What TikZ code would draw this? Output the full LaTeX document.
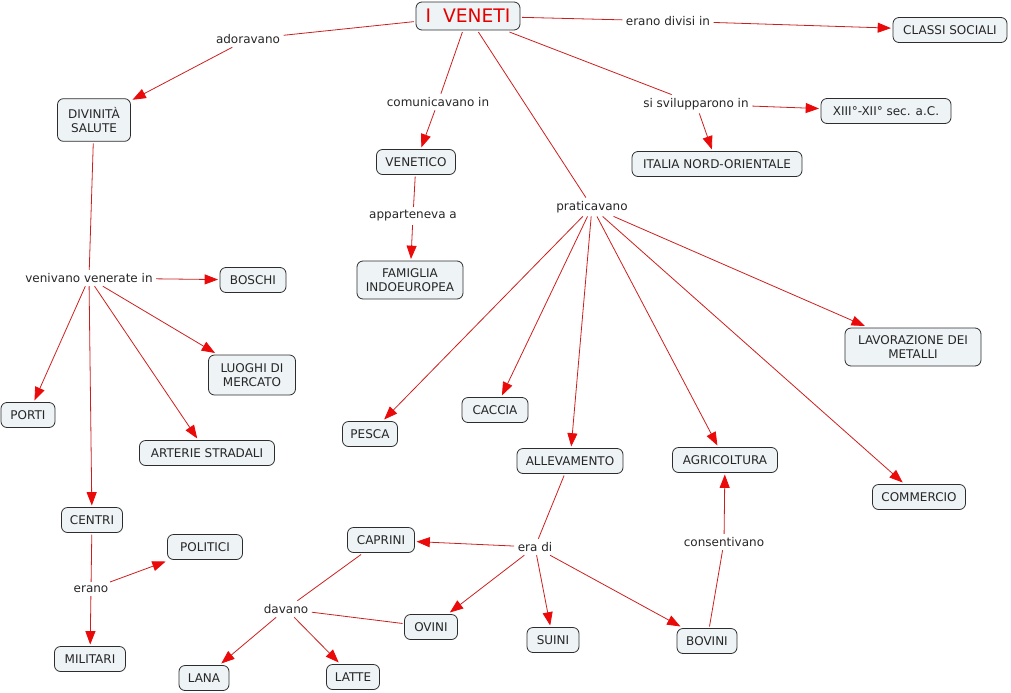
\documentclass[tikz,border=0pt]{standalone}
\usepackage{fontspec}
\setmainfont{DejaVu Sans}
\usetikzlibrary{arrows.meta}
\definecolor{boxfill}{RGB}{238,243,246}
\definecolor{boxdraw}{RGB}{45,45,45}
\definecolor{linkred}{RGB}{205,30,30}
\definecolor{tipred}{RGB}{235,10,10}
\begin{document}
\begin{tikzpicture}[x=0.75pt,y=-0.75pt,
  concept/.style={draw=boxdraw, fill=boxfill, rounded corners=4.5pt, line width=0.6pt,
    font=\fontsize{9}{10.5}\selectfont, align=center, inner xsep=4pt, inner ysep=4pt,
    minimum height=18.75pt, text=black!85, outer sep=1.5pt},
  w/.style={minimum width=#1*0.75pt},
  phrase/.style={font=\fontsize{9}{10.5}\selectfont, inner sep=2.5pt, text=black!85},
  conn/.style={draw=linkred, line width=0.6pt},
  arr/.style={conn, -{Triangle[length=10pt,width=7.5pt,color=tipred]}}]
\useasboundingbox (0,0) rectangle (1011,693);

% concepts
\node[concept, w=104, minimum height=21pt, font=\fontsize{14}{16}\selectfont, text=red!90!black] (veneti) at (468,16) {I\ \ VENETI};
\node[concept, w=114] (classi) at (950,30) {CLASSI SOCIALI};
\node[concept, w=73, minimum height=32pt] (divinita) at (94,120) {DIVINITÀ\\SALUTE};
\node[concept, w=79] (venetico) at (416,162) {VENETICO};
\node[concept, w=130] (xiii) at (886,111) {XIII°-XII° sec. a.C.};
\node[concept, w=170] (italia) at (717,164) {ITALIA NORD-ORIENTALE};
\node[concept, w=106, minimum height=28.5pt] (famiglia) at (410,280) {FAMIGLIA\\INDOEUROPEA};
\node[concept, w=66] (boschi) at (253,280) {BOSCHI};
\node[concept, w=136, minimum height=28.5pt] (lavorazione) at (913,347) {LAVORAZIONE DEI\\METALLI};
\node[concept, w=87, minimum height=30pt] (luoghi) at (252,375) {LUOGHI DI\\MERCATO};
\node[concept, w=54] (porti) at (28,415) {PORTI};
\node[concept, w=55] (pesca) at (370,434) {PESCA};
\node[concept, w=66] (caccia) at (495,410) {CACCIA};
\node[concept, w=135] (arterie) at (207,453) {ARTERIE STRADALI};
\node[concept, w=106] (allevamento) at (570,461) {ALLEVAMENTO};
\node[concept, w=105] (agricoltura) at (725,460) {AGRICOLTURA};
\node[concept, w=93] (commercio) at (919,497) {COMMERCIO};
\node[concept, w=61] (centri) at (92,520) {CENTRI};
\node[concept, w=75] (politici) at (205,547) {POLITICI};
\node[concept, w=67] (caprini) at (381,540) {CAPRINI};
\node[concept, w=53] (ovini) at (431,627) {OVINI};
\node[concept, w=52] (suini) at (553,640) {SUINI};
\node[concept, w=60] (bovini) at (707,641) {BOVINI};
\node[concept, w=71] (militari) at (90,659) {MILITARI};
\node[concept, w=50] (lana) at (204,678) {LANA};
\node[concept, w=53] (latte) at (353,677) {LATTE};

% linking phrases
\node[phrase] (adoravano) at (248,39) {adoravano};
\node[phrase] (divisi) at (668,21) {erano divisi in};
\node[phrase] (comunicavano) at (438,102) {comunicavano in};
\node[phrase] (svilupparono) at (696,104) {si svilupparono in};
\node[phrase] (apparteneva) at (413,216) {apparteneva a};
\node[phrase] (praticavano) at (592,207) {praticavano};
\node[phrase] (venerate) at (89,278) {venivano venerate in};
\node[phrase] (erano) at (91,589) {erano};
\node[phrase] (davano) at (286,609) {davano};
\node[phrase] (eradi) at (535,547) {era di};
\node[phrase] (consentivano) at (724,542) {consentivano};

% connections
\draw[conn] (veneti) -- (adoravano);
\draw[arr] (adoravano) -- (divinita);
\draw[conn] (veneti) -- (divisi);
\draw[arr] (divisi) -- (classi);
\draw[conn] (veneti) -- (comunicavano);
\draw[arr] (comunicavano) -- (venetico);
\draw[conn] (veneti) -- (svilupparono);
\draw[arr] (svilupparono) -- (xiii);
\draw[arr] (svilupparono) -- (italia);
\draw[conn] (veneti) -- (praticavano);
\draw[arr] (praticavano) -- (pesca);
\draw[arr] (praticavano) -- (caccia);
\draw[arr] (praticavano) -- (allevamento);
\draw[arr] (praticavano) -- (agricoltura);
\draw[arr] (praticavano) -- (commercio);
\draw[arr] (praticavano) -- (lavorazione);
\draw[conn] (venetico) -- (apparteneva);
\draw[arr] (apparteneva) -- (famiglia);
\draw[conn] (divinita) -- (venerate);
\draw[arr] (venerate) -- (boschi);
\draw[arr] (venerate) -- (luoghi);
\draw[arr] (venerate) -- (porti);
\draw[arr] (venerate) -- (arterie);
\draw[arr] (venerate) -- (centri);
\draw[conn] (centri) -- (erano);
\draw[arr] (erano) -- (politici);
\draw[arr] (erano) -- (militari);
\draw[conn] (allevamento) -- (eradi);
\draw[arr] (eradi) -- (caprini);
\draw[arr] (eradi) -- (ovini);
\draw[arr] (eradi) -- (suini);
\draw[arr] (eradi) -- (bovini);
\draw[conn] (caprini) -- (davano);
\draw[conn] (ovini) -- (davano);
\draw[arr] (davano) -- (lana);
\draw[arr] (davano) -- (latte);
\draw[conn] (bovini) -- (consentivano);
\draw[arr] (consentivano) -- (agricoltura);
\end{tikzpicture}
\end{document}
